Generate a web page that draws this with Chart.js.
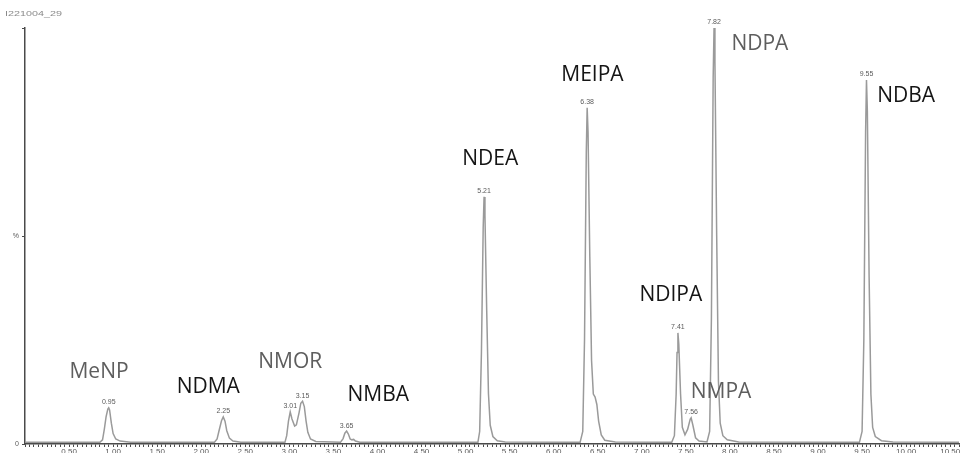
<!DOCTYPE html>
<html>
<head>
<meta charset="utf-8">
<script src="https://cdn.jsdelivr.net/npm/chart.js@4.4.1/dist/chart.umd.min.js"></script>
<style>
  html, body { margin: 0; padding: 0; background: #fff; overflow: hidden; }
  #wrap { position: relative; width: 963px; height: 465px; }
</style>
</head>
<body>
<div id="wrap"><canvas id="cChrom"></canvas></div>
<script>
/* Chromatogram of nitrosamine standards (run I221004_29). */

var RUN_ID = "I221004_29";

// trace: retention time (min) and relative intensity (%)
var TIME = [
  0.00, 0.85, 0.88, 0.90, 0.92, 0.94, 0.95, 0.96, 0.98, 1.00, 1.03, 1.08, 1.20,
  2.15, 2.18, 2.20, 2.23, 2.25, 2.27, 2.29, 2.32, 2.36, 2.45,
  2.95, 2.97, 2.99, 3.01, 3.03, 3.06, 3.08, 3.11, 3.13, 3.15, 3.17, 3.19, 3.21, 3.24, 3.30,
  3.58, 3.61, 3.63, 3.65, 3.67, 3.69, 3.71, 3.73, 3.75, 3.80,
  5.14, 5.16, 5.18, 5.20, 5.21, 5.22, 5.24, 5.26, 5.28, 5.31, 5.36, 5.45,
  6.30, 6.33, 6.35, 6.37, 6.38, 6.39, 6.41, 6.43, 6.45, 6.47, 6.49, 6.51, 6.54, 6.58, 6.70,
  7.34, 7.37, 7.39, 7.40, 7.41, 7.42, 7.44, 7.46, 7.49, 7.52, 7.55, 7.56, 7.58, 7.61, 7.65,
  7.74, 7.77, 7.79, 7.81, 7.82, 7.83, 7.85, 7.87, 7.89, 7.92, 7.97, 8.10,
  9.47, 9.50, 9.52, 9.54, 9.55, 9.56, 9.58, 9.60, 9.62, 9.65, 9.72, 9.85, 10.60
];
var SIGNAL = [
  0.4, 0.4, 1.0, 3.5, 6.5, 8.4, 8.7, 8.2, 5.0, 2.5, 1.2, 0.7, 0.4,
  0.4, 1.2, 3.0, 5.6, 6.5, 5.5, 3.2, 1.4, 0.7, 0.4,
  0.4, 2.0, 5.5, 7.7, 6.0, 4.3, 4.6, 7.5, 9.8, 10.3, 9.0, 5.5, 2.8, 1.2, 0.6,
  0.4, 1.3, 2.6, 3.1, 2.4, 1.2, 1.0, 1.1, 0.7, 0.4,
  0.4, 3.0, 22, 52, 59.4, 55, 32, 12, 4.5, 1.8, 0.8, 0.5,
  0.4, 3.0, 25, 70, 80.8, 75, 45, 20, 12, 11.3, 9.5, 5.5, 2.2, 0.9, 0.5,
  0.4, 2.0, 12, 22, 26.7, 24, 12, 4.0, 2.2, 3.5, 6.0, 6.3, 4.5, 1.5, 0.7,
  0.5, 3.0, 30, 88, 100, 92, 50, 15, 5.0, 2.0, 1.0, 0.5,
  0.4, 3.0, 25, 75, 87.5, 80, 40, 12, 4.0, 1.8, 0.8, 0.5, 0.4
];

// apex retention times that are printed above the peaks
var PEAK_RT = [0.95, 2.25, 3.01, 3.15, 3.65, 5.21, 6.38, 7.41, 7.56, 7.82, 9.55];

// compound names, anchored in data units (time, %)
var COMPOUNDS = ["MeNP", "NDMA", "NMOR", "NMBA", "NDEA", "MEIPA", "NDIPA", "NMPA", "NDPA", "NDBA"];
var COMP_T    = [0.84, 2.08, 3.01, 4.01, 5.28, 6.44, 7.33, 7.90, 8.34, 10.00];
var COMP_Y    = [17.4, 13.7, 19.7, 11.8, 68.5, 88.7, 35.8, 12.6, 96.2, 83.6];
var COMP_DARK = [false, true, false, true, true, true, true, false, false, true];

var X_TICK_LABELS = ["0.50", "1.00", "1.50", "2.00", "2.50", "3.00", "3.50", "4.00", "4.50", "5.00",
                     "5.50", "6.00", "6.50", "7.00", "7.50", "8.00", "8.50", "9.00", "9.50", "10.00", "10.50"];

var TRACE = "#9a9a9a", AXIS = "#4a4a4a", SMALL = "#5a5a5a";
Chart.defaults.font.family = "'Liberation Sans', Arial, sans-serif";

var points = TIME.map(function (t, i) { return { x: t, y: SIGNAL[i] }; });

var labelsPlugin = {
  id: "peakLabels",
  afterDatasetsDraw: function (chart) {
    var ctx = chart.ctx, xs = chart.scales.x, ys = chart.scales.y;
    ctx.save();
    // run id, top left
    ctx.fillStyle = "#8a8a8a";
    ctx.font = "8px 'Liberation Sans', Arial, sans-serif";
    ctx.textAlign = "left"; ctx.textBaseline = "middle";
    ctx.save(); ctx.translate(5, 14); ctx.scale(1.35, 0.8); ctx.fillText(RUN_ID, 0, 0); ctx.restore();

    // retention times above apexes
    ctx.fillStyle = SMALL;
    ctx.font = "7px 'Liberation Sans', Arial, sans-serif";
    ctx.textAlign = "center"; ctx.textBaseline = "bottom";
    PEAK_RT.forEach(function (rt) {
      var i = TIME.indexOf(rt);
      ctx.fillText(rt.toFixed(2), xs.getPixelForValue(rt), ys.getPixelForValue(SIGNAL[i]) - 2);
    });

    // compound names
    ctx.textBaseline = "middle";
    COMPOUNDS.forEach(function (name, i) {
      ctx.fillStyle = COMP_DARK[i] ? "#151515" : "#5e5e5e";
      ctx.font = "21px 'Open Sans', sans-serif";
      ctx.fillText(name, xs.getPixelForValue(COMP_T[i]), ys.getPixelForValue(COMP_Y[i]));
    });
    ctx.restore();
  }
};

new Chart(document.getElementById("cChrom"), {
  type: "line",
  data: { datasets: [{ data: points, borderColor: TRACE, borderWidth: 1.5,
    pointRadius: 0, tension: 0, fill: false }] },
  options: {
    responsive: true, maintainAspectRatio: false, animation: false,
    layout: { padding: { top: 28, right: 4, left: 0, bottom: 0 } },
    plugins: { legend: { display: false }, tooltip: { enabled: false } },
    scales: {
      x: {
        type: "linear", min: 0, max: 10.6,
        grid: { drawOnChartArea: false, drawTicks: true, tickLength: 3, tickColor: AXIS, tickWidth: 1 },
        border: { color: AXIS, width: 1.5 },
        ticks: {
          stepSize: 0.05, autoSkip: false, maxRotation: 0, padding: 0,
          color: SMALL, font: { size: 8 },
          callback: function (v) {
            var k = Math.round(v * 100);
            if (k > 0 && k % 50 === 0) return X_TICK_LABELS[k / 50 - 1];
            return "";
          }
        },
        afterFit: function (s) { s.height = 21; }
      },
      y: {
        min: 0, max: 100,
        grid: { drawOnChartArea: false, drawTicks: true, tickLength: 3, tickColor: AXIS },
        border: { color: AXIS, width: 1.5 },
        ticks: {
          stepSize: 50, padding: 3, color: SMALL, font: { size: 7 },
          callback: function (v) { return v === 0 ? "0" : v === 50 ? "%" : ""; }
        },
        afterFit: function (s) { s.width = 25; }
      }
    }
  },
  plugins: [labelsPlugin]
});
</script>
</body>
</html>
